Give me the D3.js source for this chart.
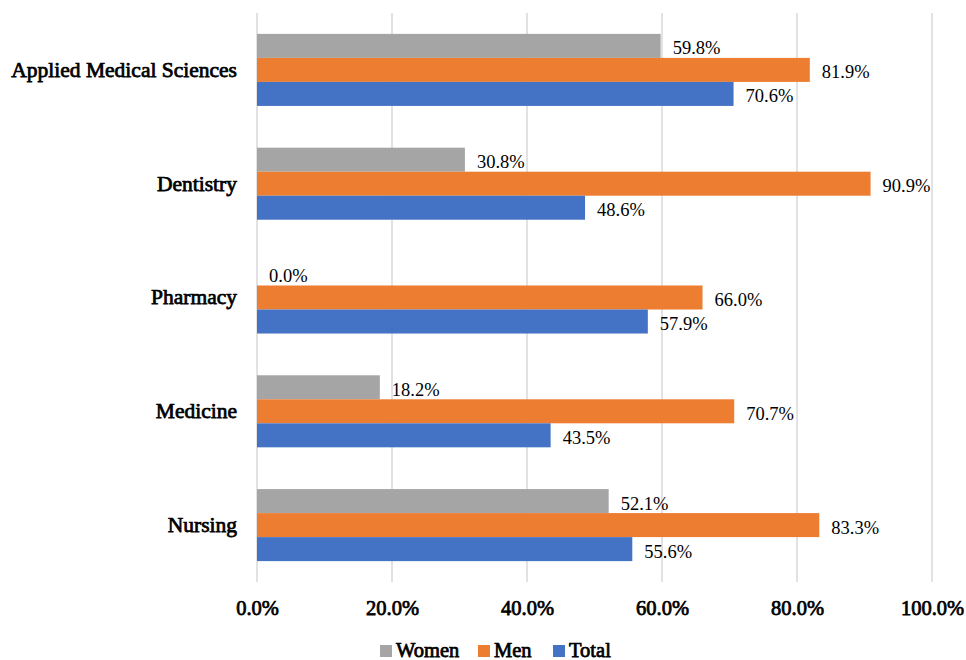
<!DOCTYPE html>
<html><head><meta charset="utf-8">
<script src="https://cdn.jsdelivr.net/npm/d3@7"></script>
<style>body{margin:0;background:#fff}svg{display:block}</style>
</head><body>
<script>
const categories = ["Applied Medical Sciences","Dentistry","Pharmacy","Medicine","Nursing"];
const seriesNames = ["Women","Men","Total"];
const women = [59.8,30.8,0.0,18.2,52.1];
const men = [81.9,90.9,66.0,70.7,83.3];
const total = [70.6,48.6,57.9,43.5,55.6];
const ticks = [0,20,40,60,80,100];
const colors = ["#A5A5A5","#ED7D31","#4472C4"];

const W=966,H=660;
const svg=d3.select("body").append("svg").attr("width",W).attr("height",H);
const x=d3.scaleLinear().domain([0,100]).range([257,932]);
const y=d3.scaleBand().domain(categories).range([13,582]).paddingInner(0.367).paddingOuter(0.1835);
const ys=d3.scaleBand().domain(seriesNames).range([0,y.bandwidth()]);
const font="Liberation Serif";
function bold(sel){ sel.attr("font-family",font).attr("font-weight","normal")
  .attr("fill","#000").attr("stroke","#000").attr("stroke-width",0.75); }

// gridlines
svg.append("g").selectAll("line").data(ticks).join("line")
  .attr("x1",d=>x(d)).attr("x2",d=>x(d)).attr("y1",13).attr("y2",582)
  .attr("stroke","#D9D9D9").attr("stroke-width",1.5);

// x axis labels
const xa=svg.append("g").attr("transform","translate(0,608)")
  .call(d3.axisBottom(x).tickValues(ticks).tickSize(0).tickPadding(0).tickFormat(d=>d.toFixed(1)+"%"));
xa.select(".domain").remove();
xa.selectAll("text").call(bold).attr("font-size",20.5).attr("dy","0.35em").attr("y",0);

// y axis labels
const ya=svg.append("g").attr("transform","translate(237,0)")
  .call(d3.axisLeft(y).tickSize(0).tickPadding(0));
ya.select(".domain").remove();
ya.selectAll("text").call(bold).attr("font-size",21.5);

const data=categories.map((c,i)=>({cat:c,vals:[women[i],men[i],total[i]]}));
const g=svg.append("g").selectAll("g").data(data).join("g")
  .attr("transform",d=>`translate(0,${y(d.cat)})`);
g.selectAll("rect").data(d=>d.vals.map((v,j)=>({v,s:seriesNames[j],j}))).join("rect")
  .attr("x",x(0)).attr("y",d=>ys(d.s)).attr("width",d=>x(d.v)-x(0)).attr("height",ys.bandwidth())
  .attr("fill",d=>colors[d.j]);
g.selectAll("text").data(d=>d.vals.map((v,j)=>({v,s:seriesNames[j],j}))).join("text")
  .attr("x",d=>x(d.v)+12).attr("y",d=>ys(d.s)+ys.bandwidth()/2+2)
  .attr("dy","0.35em").attr("font-family",font).attr("font-size",18.5).attr("fill","#000")
  .text(d=>d.v.toFixed(1)+"%");

// legend
const leg=svg.append("g").attr("transform","translate(0,650)");
const lx=[380,478,553];
seriesNames.forEach((s,i)=>{
  leg.append("rect").attr("x",lx[i]).attr("y",-5).attr("width",12).attr("height",12).attr("fill",colors[i]);
  leg.append("text").attr("x",lx[i]+16).attr("y",0).attr("dy","0.35em")
    .call(bold).attr("font-size",20.5).text(s);
});
</script>
</body></html>
